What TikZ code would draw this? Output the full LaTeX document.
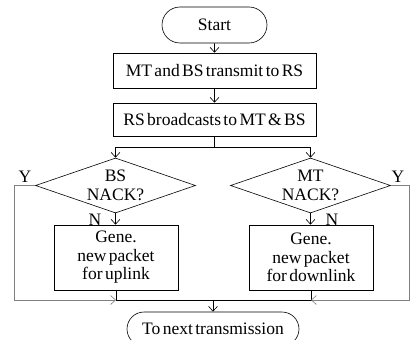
\documentclass[tikz,border=0pt]{standalone}
\usepackage{fontspec}
\setmainfont{Liberation Serif}[WordSpace=0.55]
\usetikzlibrary{shapes.geometric,shapes.misc,arrows.meta}

\begin{document}
\begin{tikzpicture}[x=1pt, y=-1pt, line width=0.6pt,
		font=\fontsize{17.5}{18.5}\selectfont,
		>={Straight Barb[length=5pt,width=9pt]},
		term/.style={draw, rounded rectangle, inner sep=0pt},
		proc/.style={draw, rectangle, inner sep=0pt, align=center},
		ask/.style={draw, diamond, aspect=2.9, inner sep=0pt, minimum width=160pt, minimum height=55pt, align=center},
		back/.style={draw=gray, ->}]

		\useasboundingbox (0,0) rectangle (410,340);

		% main column
		\node[term, minimum width=105pt, minimum height=36pt] (start) at (214.5,25) {Start};
		\node[proc, minimum width=203pt, minimum height=35pt] (tx) at (214.5,70.5) {MT and BS transmit to RS};
		\node[proc, minimum width=203pt, minimum height=33pt] (bcast) at (214.5,119.5) {RS broadcasts to MT \& BS};

		% decisions
		\node[ask] (bsq) at (115.5,185.5) {BS\\NACK?};
		\node[ask] (mtq) at (310.5,185.5) {MT\\NACK?};

		\node[proc, minimum width=124pt, minimum height=65pt] (upl) at (116,257.5) {Gene.\\new packet\\for uplink};
		\node[proc, minimum width=124pt, minimum height=65pt] (dnl) at (311,257.5) {Gene.\\new packet\\for downlink};

		\node[term, minimum width=172pt, minimum height=34pt] (next) at (213,329) {To next transmission};

		% labels
		\node (yl) at (25,177) {Y};
		\node (yr) at (398,177) {Y};
		\node (nl) at (95,219.5) {N};
		\node (nr) at (332,219.5) {N};

		% connectors
		\coordinate (split) at (214.5,147);
		\coordinate (join) at (213,300);
		\coordinate (cl) at (14,300);
		\coordinate (cr) at (409,300);

		\draw[->] (start) -- (tx);
		\draw[->] (tx) -- (bcast);
		\draw (bcast) -- (split);
		\draw[->] (split) -| (bsq.north);
		\draw[->] (split) -| (mtq.north);
		\draw[->] (bsq.south) -- (bsq.south |- upl.north);
		\draw[->] (mtq.south) -- (mtq.south |- dnl.north);
		\draw (upl.south) -- (upl.south |- join) -- (dnl.south |- join) -- (dnl.south);
		\draw[->] (join) -- (next);

		\draw[back] (bsq.west) -- (bsq.west -| cl) -- (cl) -- (upl.south |- join);
		\draw[back] (mtq.east) -- (mtq.east -| cr) -- (cr) -- (dnl.south |- join);
	\end{tikzpicture}
\end{document}
